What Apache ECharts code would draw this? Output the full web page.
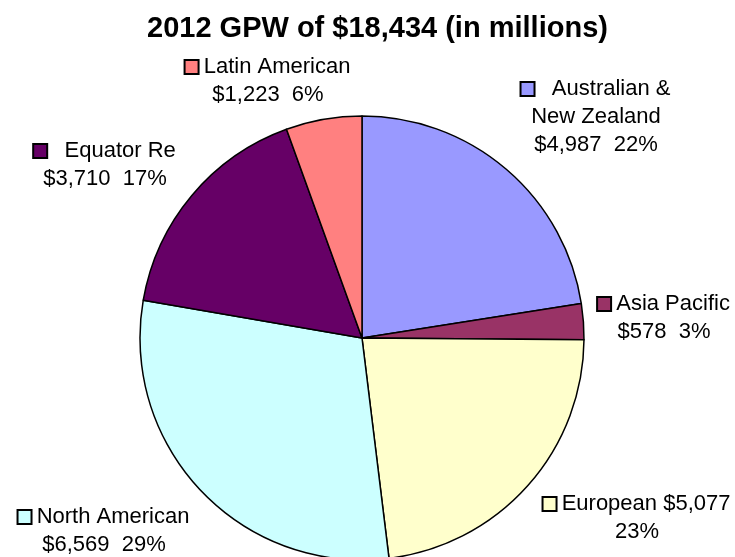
<!DOCTYPE html>
<html><head><meta charset="utf-8">
<script src="https://cdn.jsdelivr.net/npm/echarts@6/dist/echarts.min.js"></script>
<style>html,body{margin:0;padding:0;background:#fff}#c{width:735px;height:557px}</style>
</head><body><div id="c"></div>
<script>
var titleText = '2012 GPW of $18,434 (in millions)';
var categories = ['Australian &\nNew Zealand', 'Asia Pacific', 'European', 'North American', 'Equator Re', 'Latin American'];
var values = [4987, 578, 5077, 6569, 3710, 1223];
var pctLabels = [22, 3, 23, 29, 17, 6];
var colors = ['#9999FF', '#993366', '#FFFFCC', '#CCFFFF', '#660066', '#FF8080'];
var labelTemplates = ['{n}\n{v}  {p}', '{n}\n{v}  {p}', '{n} {v}\n{p}', '{n}\n{v}  {p}', '{n}\n{v}  {p}', '{n}\n{v}  {p}'];
var keyGaps = ['   ', ' ', ' ', ' ', '   ', ' '];
var labelPos = [[596, 117], [664, 318], [637, 518], [104, 531], [105, 165], [268, 81]];

function fmtMoney(v){ return '$' + v.toLocaleString('en-US'); }

var FONT = 'Liberation Sans, Arial, sans-serif';
var rich = {};
colors.forEach(function(c, i){
  rich['k' + i] = {width: 12, height: 12, backgroundColor: c, borderColor: '#000', borderWidth: 2};
});
rich.t = {fontSize: 22, fontFamily: FONT, color: '#000', lineHeight: 28};

var data = categories.map(function(n, i){ return {name: n, value: values[i], itemStyle: {color: colors[i]}}; });

var chart = echarts.init(document.getElementById('c'), null, {renderer: 'canvas'});
chart.setOption({
  animation: false,
  title: {text: titleText, left: 142, top: 9,
    textStyle: {fontSize: 29, fontWeight: 'bold', fontFamily: FONT, color: '#000'}},
  series: [{
    type: 'pie',
    center: [362, 338],
    radius: 222,
    startAngle: 90,
    clockwise: true,
    data: data,
    itemStyle: {borderColor: '#000', borderWidth: 1.5},
    emphasis: {disabled: true},
    labelLine: {show: false},
    label: {
      show: true,
      position: 'outside',
      fontSize: 22,
      lineHeight: 28,
      fontFamily: FONT,
      color: '#000',
      align: 'center',
      overflow: 'none',
      width: 300,
      rich: rich,
      formatter: function(p){
        var i = p.dataIndex;
        var txt = labelTemplates[i].replace('{n}', categories[i]).replace('{v}', fmtMoney(values[i])).replace('{p}', pctLabels[i] + '%');
        var lines = txt.split('\n');
        return lines.map(function(l, j){
          return (j === 0 ? '{k' + i + '|}' + keyGaps[i] : '') + '{t|' + l + '}';
        }).join('\n');
      }
    },
    labelLayout: function(p){
      var pos = labelPos[p.dataIndex];
      return {x: pos[0], y: pos[1], align: 'center', verticalAlign: 'middle', hideOverlap: false};
    }
  }]
});
</script></body></html>
